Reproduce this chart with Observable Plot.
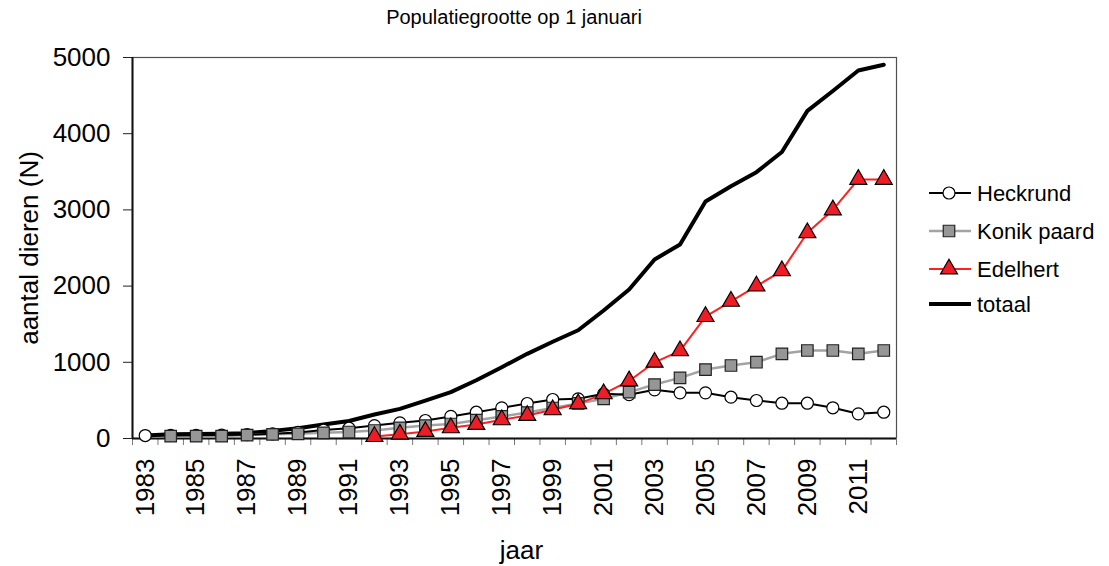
<!DOCTYPE html>
<html><head><meta charset="utf-8">
<script src="https://cdn.jsdelivr.net/npm/d3@7"></script>
<script src="https://cdn.jsdelivr.net/npm/@observablehq/plot@0.6"></script>
<style>
body{margin:0;background:#fff;font-family:"Liberation Sans",Arial,sans-serif;}
#wrap{position:relative;width:1109px;height:566px;overflow:hidden;}
#title{height:36px;width:1109px;position:relative;}
#title span{position:absolute;left:514px;top:6px;transform:translateX(-50%);font-size:20px;line-height:23px;white-space:nowrap;color:#000;}
#legend{position:absolute;left:920px;top:170px;overflow:visible;}
</style></head><body>
<div id="wrap">
  <div id="title"><span>Populatiegrootte op 1 januari</span></div>
  <div id="chart"></div>
  <svg id="legend" width="189" height="160"></svg>
</div>
<script>
const years = [1983,1984,1985,1986,1987,1988,1989,1990,1991,1992,1993,1994,1995,1996,1997,1998,1999,2000,2001,2002,2003,2004,2005,2006,2007,2008,2009,2010,2011,2012];
const heckrund = [39,40,42,45,50,62,80,110,135,170,206,236,290,345,402,459,512,521,586,575,639,599,599,542,499,463,463,403,324,345];
const konikPaard = [null,30,30,30,45,55,61,75,85,105,140,170,190,240,290,340,400,460,521,608,708,796,905,958,1001,1111,1155,1155,1111,1155];
const edelhert = [null,null,null,null,null,null,null,null,null,25,57,92,140,184,245,302,376,455,586,755,1000,1150,1600,1800,2000,2200,2700,3000,3400,3400];
const totaal = [39,55,60,62,70,100,135,184,230,315,389,498,608,765,936,1111,1270,1420,1680,1955,2350,2545,3110,3310,3495,3760,4300,4560,4830,4905];
const yTicks = [0,1000,2000,3000,4000,5000];
const xTickLabels = [1983,1985,1987,1989,1991,1993,1995,1997,1999,2001,2003,2005,2007,2009,2011];
const seriesNames = ["Heckrund","Konik paard","Edelhert","totaal"];

const rows = years.map((year,i)=>({year, heck:heckrund[i], konik:konikPaard[i], edel:edelhert[i], tot:totaal[i]}));
const boundaries = [years[0]-0.5, ...years.map(y=>y+0.5)];

const font = '"Liberation Sans", Arial, sans-serif';
const rCircle = 6, rSquare = 6.5, rTri = 6.3;
const grayFill = "#969696", redFill = "#ee1c25", grayLine = "#a3a3a3", redLine = "#ff2020";

const chart = Plot.plot({
  width: 1109, height: 530,
  marginTop: 21, marginBottom: 128, marginLeft: 132, marginRight: 213,
  x: {type: "linear", domain: [years[0]-0.5, years[years.length-1]+0.5], axis: null},
  y: {domain: [0, 5000], axis: null},
  style: {fontFamily: font, color: "#000", background: "#fff", overflow: "visible"},
  marks: [
    Plot.frame({stroke: "#505050", strokeWidth: 1.2}),
    Plot.axisY({ticks: yTicks, tickSize: 9, tickPadding: 13, fontSize: 26, tickFormat: d => String(d), label: null, stroke: "#222"}),
    Plot.axisX({ticks: boundaries, tickSize: 7, tickFormat: () => "", label: null, stroke: "#777"}),
    Plot.text(xTickLabels, {x: d => d, text: d => String(d), frameAnchor: "bottom", rotate: -90, textAnchor: "end", lineAnchor: "middle", dy: 20, fontSize: 26}),
    Plot.text(["aantal dieren (N)"], {frameAnchor: "left", rotate: -90, textAnchor: "middle", lineAnchor: "middle", dx: -103, fontSize: 26, text: d => d}),
    Plot.text(["jaar"], {frameAnchor: "bottom", textAnchor: "middle", lineAnchor: "middle", dx: 7, dy: 112, fontSize: 26, text: d => d}),
    Plot.ruleX([years[0]-0.5], {stroke: "#111", strokeWidth: 2}),
    Plot.ruleY([0], {stroke: "#111", strokeWidth: 2}),
    Plot.line(rows, {x: "year", y: "tot", stroke: "#000", strokeWidth: 4}),
    Plot.line(rows, {x: "year", y: "konik", stroke: grayLine, strokeWidth: 2.5}),
    Plot.line(rows, {x: "year", y: "edel", stroke: redLine, strokeWidth: 2}),
    Plot.line(rows, {x: "year", y: "heck", stroke: "#000", strokeWidth: 2}),
    Plot.dot(rows, {x: "year", y: "heck", r: rCircle, fill: "#fff", stroke: "#000", strokeWidth: 1.2}),
    Plot.dot(rows, {x: "year", y: "konik", r: rSquare, symbol: "square", fill: grayFill, stroke: "#222", strokeWidth: 1.2}),
    Plot.dot(rows, {x: "year", y: "edel", r: rTri, symbol: "triangle", fill: redFill, stroke: "#000", strokeWidth: 1.2})
  ]
});
document.getElementById("chart").appendChild(chart);

// legend
const lg = d3.select("#legend");
const items = [
  {name: seriesNames[0], y: 23, line: "#000", lw: 2, sym: d3.symbolCircle, r: rCircle, fill: "#fff"},
  {name: seriesNames[1], y: 61, line: grayLine, lw: 2.5, sym: d3.symbolSquare, r: rSquare, fill: grayFill},
  {name: seriesNames[2], y: 99, line: redLine, lw: 2, sym: d3.symbolTriangle, r: rTri, fill: redFill},
  {name: seriesNames[3], y: 134, line: "#000", lw: 4, sym: null}
];
for (const it of items) {
  lg.append("line").attr("x1", 9).attr("x2", 51).attr("y1", it.y).attr("y2", it.y)
    .attr("stroke", it.line).attr("stroke-width", it.lw);
  if (it.sym) {
    lg.append("path").attr("d", d3.symbol().type(it.sym).size(Math.PI * it.r * it.r)())
      .attr("transform", `translate(29,${it.y})`).attr("fill", it.fill)
      .attr("stroke", it.sym === d3.symbolSquare ? "#222" : "#000").attr("stroke-width", 1.2);
  }
  lg.append("text").attr("x", 57).attr("y", it.y).attr("dy", "0.35em")
    .attr("font-family", font).attr("font-size", 22).attr("fill", "#000").text(it.name);
}
</script>
</body></html>
